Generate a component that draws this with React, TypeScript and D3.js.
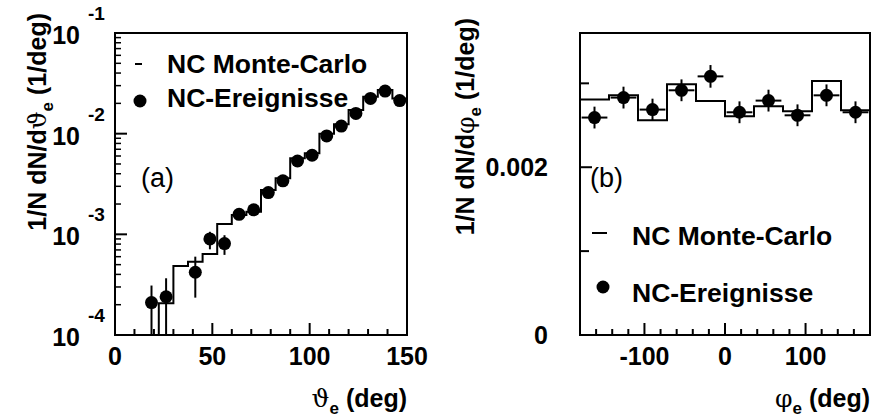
import React, { useEffect } from 'react';
import * as d3 from 'd3';

// ---------- data: panel (a) theta_e ----------
const thetaCenters = [18.75, 26.25, 41.25, 48.75, 56.25, 63.75, 71.25, 78.75, 86.25, 93.75, 101.25, 108.75, 116.25, 123.75, 131.25, 138.75, 146.25];
const thetaValues = [2.1e-4, 2.4e-4, 4.2e-4, 9.0e-4, 8.1e-4, 1.58e-3, 1.75e-3, 2.6e-3, 3.4e-3, 5.35e-3, 6.1e-3, 9.5e-3, 1.19e-2, 1.59e-2, 2.24e-2, 2.65e-2, 2.13e-2];
const thetaErrLow = [1.6e-4, 2.0e-4, 1.85e-4, 1.9e-4, 1.85e-4, 1.5e-4, 1.6e-4, 2.0e-4, 2.3e-4, 3.0e-4, 3.2e-4, 4.0e-4, 4.5e-4, 5.2e-4, 6.2e-4, 6.8e-4, 6.1e-4];
const thetaErrHigh = [1.0e-4, 1.26e-4, 1.8e-4, 1.6e-4, 1.7e-4, 1.5e-4, 1.6e-4, 2.0e-4, 2.3e-4, 3.0e-4, 3.2e-4, 4.0e-4, 4.5e-4, 5.2e-4, 6.2e-4, 6.8e-4, 6.1e-4];
const thetaMcEdges = [15, 22.5, 30, 37.5, 45, 52.5, 60, 67.5, 75, 82.5, 90, 97.5, 105, 112.5, 120, 127.5, 135, 142.5, 150];
const thetaMcValues = [6e-5, 2.07e-4, 4.84e-4, 5.35e-4, 6.38e-4, 1.27e-3, 1.56e-3, 1.68e-3, 2.75e-3, 3.6e-3, 5.69e-3, 6.38e-3, 1.0e-2, 1.24e-2, 1.72e-2, 2.33e-2, 2.72e-2, 2.24e-2];
const thetaXMajor = [0, 50, 100, 150];
const thetaXMinor = [10, 20, 30, 40, 60, 70, 80, 90, 110, 120, 130, 140];
const thetaYExponents = [-4, -3, -2, -1];

// ---------- data: panel (b) phi_e ----------
const phiCenters = [-162, -126, -90, -54, -18, 18, 54, 90, 126, 162];
const phiValues = [2.592e-3, 2.830e-3, 2.687e-3, 2.917e-3, 3.083e-3, 2.655e-3, 2.794e-3, 2.619e-3, 2.857e-3, 2.655e-3];
const phiErr = [1.3e-4, 1.3e-4, 1.3e-4, 1.3e-4, 1.35e-4, 1.3e-4, 1.3e-4, 1.3e-4, 1.3e-4, 1.3e-4];
const phiXErr = [16, 16, 16, 16, 16, 16, 16, 16, 16, 16];
const phiMcEdges = [-180, -144, -108, -72, -36, 0, 36, 72, 108, 144, 180];
const phiMcValues = [2.806e-3, 2.857e-3, 2.560e-3, 2.988e-3, 2.790e-3, 2.607e-3, 2.726e-3, 2.667e-3, 3.027e-3, 2.679e-3];
const phiXMajor = [-100, 0, 100];
const phiXMinor = [-160, -140, -120, -80, -60, -40, -20, 20, 40, 60, 80, 120, 140, 160];
const phiYLabeled = [0, 0.002];
const phiYUnlabeled = [0.001, 0.003];

const legendLabels = ['NC Monte-Carlo', 'NC-Ereignisse'];

const FONT = '"Liberation Sans", Arial, Helvetica, sans-serif';
const GREEK = '"DejaVu Serif", "Liberation Serif", serif';

function stepPath(edges: number[], values: number[], x: any, y: any) {
  const pts: [number, number][] = [];
  values.forEach((v, i) => {
    pts.push([edges[i], v]);
    pts.push([edges[i + 1], v]);
  });
  return d3.line<[number, number]>().x(d => x(d[0])).y(d => y(d[1]))(pts) || '';
}

export default function App() {
  useEffect(() => {
    document.body.style.margin = '0';
  }, []);

  // Panel (a)
  const ax = d3.scaleLinear().domain([0, 150]).range([115, 407]);
  const ay = d3.scaleLog().domain([1e-4, 1e-1]).range([335, 33]);
  // Panel (b)
  const bx = d3.scaleLinear().domain([-180, 180]).range([580, 870]);
  const by = d3.scaleLinear().domain([0, 0.0036]).range([335, 33]);

  const logMinor: number[] = [];
  [-4, -3, -2].forEach(e => {
    for (let m = 2; m <= 9; m++) logMinor.push(m * Math.pow(10, e));
  });

  const sw = 2;
  const R = 6.5;

  return (
    <svg width={872} height={420} style={{ position: 'absolute', left: 0, top: 0, background: '#fff' }} fontFamily={FONT}>
      <defs>
        <clipPath id="clipA"><rect x={115} y={33} width={292} height={302} /></clipPath>
        <clipPath id="clipB"><rect x={580} y={33} width={290} height={302} /></clipPath>
      </defs>
      <rect x={0} y={0} width={872} height={420} fill="#fff" />

      {/* ================= Panel (a) ================= */}
      <g clipPath="url(#clipA)">
        <path d={stepPath(thetaMcEdges, thetaMcValues, ax, ay)} fill="none" stroke="#000" strokeWidth={sw} />
        {thetaCenters.map((c, i) => (
          <line key={'ae' + i} x1={ax(c)} x2={ax(c)}
            y1={ay(Math.max(thetaValues[i] - thetaErrLow[i], 1e-5))}
            y2={ay(thetaValues[i] + thetaErrHigh[i])} stroke="#000" strokeWidth={sw} />
        ))}
        {thetaCenters.map((c, i) => (
          <circle key={'ap' + i} cx={ax(c)} cy={ay(thetaValues[i])} r={R} fill="#000" />
        ))}
      </g>
      {thetaXMajor.map(t => (
        <line key={'axM' + t} x1={ax(t)} x2={ax(t)} y1={335} y2={323} stroke="#000" strokeWidth={sw} />
      ))}
      {thetaXMinor.map(t => (
        <line key={'axm' + t} x1={ax(t)} x2={ax(t)} y1={335} y2={329} stroke="#000" strokeWidth={sw} />
      ))}
      {thetaYExponents.map(e => (
        <line key={'ayM' + e} x1={115} x2={127} y1={ay(Math.pow(10, e))} y2={ay(Math.pow(10, e))} stroke="#000" strokeWidth={sw} />
      ))}
      {logMinor.map((v, i) => (
        <line key={'aym' + i} x1={115} x2={121} y1={ay(v)} y2={ay(v)} stroke="#000" strokeWidth={1.5} />
      ))}
      <rect x={115} y={33} width={292} height={302} fill="none" stroke="#000" strokeWidth={sw} />
      {thetaXMajor.map(t => (
        <text key={'axl' + t} x={ax(t)} y={365} textAnchor="middle" fontSize={25} fontWeight="bold">{t}</text>
      ))}
      {thetaYExponents.map(e => (
        <g key={'ayl' + e}>
          <text x={80} y={ay(Math.pow(10, e)) + 11} textAnchor="end" fontSize={25} fontWeight="bold">10</text>
          <text x={88} y={ay(Math.pow(10, e)) - 13} textAnchor="start" fontSize={19} fontWeight="bold">{e}</text>
        </g>
      ))}
      {/* legend (a) */}
      <line x1={135} x2={142} y1={64} y2={64} stroke="#000" strokeWidth={sw} />
      <text x={167} y={73} fontSize={26.5} fontWeight="bold">{legendLabels[0]}</text>
      <circle cx={140} cy={101} r={R} fill="#000" />
      <text x={167} y={107} fontSize={26.5} fontWeight="bold">{legendLabels[1]}</text>
      <text x={141} y={187} fontSize={27}>(a)</text>
      {/* axis titles (a) */}
      <text x={407} y={407} textAnchor="end" fontSize={25} fontWeight="bold">
        <tspan fontFamily={GREEK} fontWeight="normal">ϑ</tspan>
        <tspan fontSize={17} dy={7}>e</tspan>
        <tspan dy={-7}> (deg)</tspan>
      </text>
      <text transform="translate(46,13) rotate(-90)" textAnchor="end" fontSize={25} fontWeight="bold">
        1/N dN/d<tspan fontFamily={GREEK} fontWeight="normal">ϑ</tspan>
        <tspan fontSize={17} dy={7}>e</tspan>
        <tspan dy={-7}> (1/deg)</tspan>
      </text>

      {/* ================= Panel (b) ================= */}
      <g clipPath="url(#clipB)">
        <path d={stepPath(phiMcEdges, phiMcValues, bx, by)} fill="none" stroke="#000" strokeWidth={sw} />
        {phiCenters.map((c, i) => (
          <g key={'be' + i}>
            <line x1={bx(c)} x2={bx(c)} y1={by(phiValues[i] - phiErr[i])} y2={by(phiValues[i] + phiErr[i])} stroke="#000" strokeWidth={sw} />
            <line x1={bx(c - phiXErr[i])} x2={bx(c + phiXErr[i])} y1={by(phiValues[i])} y2={by(phiValues[i])} stroke="#000" strokeWidth={sw} />
          </g>
        ))}
        {phiCenters.map((c, i) => (
          <circle key={'bp' + i} cx={bx(c)} cy={by(phiValues[i])} r={R} fill="#000" />
        ))}
      </g>
      {phiXMajor.map(t => (
        <line key={'bxM' + t} x1={bx(t)} x2={bx(t)} y1={335} y2={323} stroke="#000" strokeWidth={sw} />
      ))}
      {phiXMinor.map(t => (
        <line key={'bxm' + t} x1={bx(t)} x2={bx(t)} y1={335} y2={329} stroke="#000" strokeWidth={sw} />
      ))}
      {phiYLabeled.map(t => (
        <line key={'byM' + t} x1={580} x2={592} y1={by(t)} y2={by(t)} stroke="#000" strokeWidth={sw} />
      ))}
      {phiYUnlabeled.map(t => (
        <line key={'bym' + t} x1={580} x2={589} y1={by(t)} y2={by(t)} stroke="#000" strokeWidth={sw} />
      ))}
      <rect x={580} y={33} width={290} height={302} fill="none" stroke="#000" strokeWidth={sw} />
      {phiXMajor.map(t => (
        <text key={'bxl' + t} x={bx(t)} y={365} textAnchor="middle" fontSize={25} fontWeight="bold">{t}</text>
      ))}
      {phiYLabeled.map(t => (
        <text key={'byl' + t} x={548} y={by(t) + 9} textAnchor="end" fontSize={25} fontWeight="bold">{t === 0 ? '0' : String(t)}</text>
      ))}
      {/* legend (b) */}
      <line x1={592} x2={607} y1={233} y2={233} stroke="#000" strokeWidth={sw} />
      <text x={632} y={245} fontSize={26.5} fontWeight="bold">{legendLabels[0]}</text>
      <circle cx={603} cy={287} r={R} fill="#000" />
      <text x={632} y={302} fontSize={26.5} fontWeight="bold">{legendLabels[1]}</text>
      <text x={590} y={187} fontSize={27}>(b)</text>
      {/* axis titles (b) */}
      <text x={870} y={407} textAnchor="end" fontSize={25} fontWeight="bold">
        <tspan fontFamily={GREEK} fontWeight="normal">φ</tspan>
        <tspan fontSize={17} dy={7}>e</tspan>
        <tspan dy={-7}> (deg)</tspan>
      </text>
      <text transform="translate(474,18) rotate(-90)" textAnchor="end" fontSize={25} fontWeight="bold">
        1/N dN/d<tspan fontFamily={GREEK} fontWeight="normal">φ</tspan>
        <tspan fontSize={17} dy={7}>e</tspan>
        <tspan dy={-7}> (1/deg)</tspan>
      </text>
    </svg>
  );
}
